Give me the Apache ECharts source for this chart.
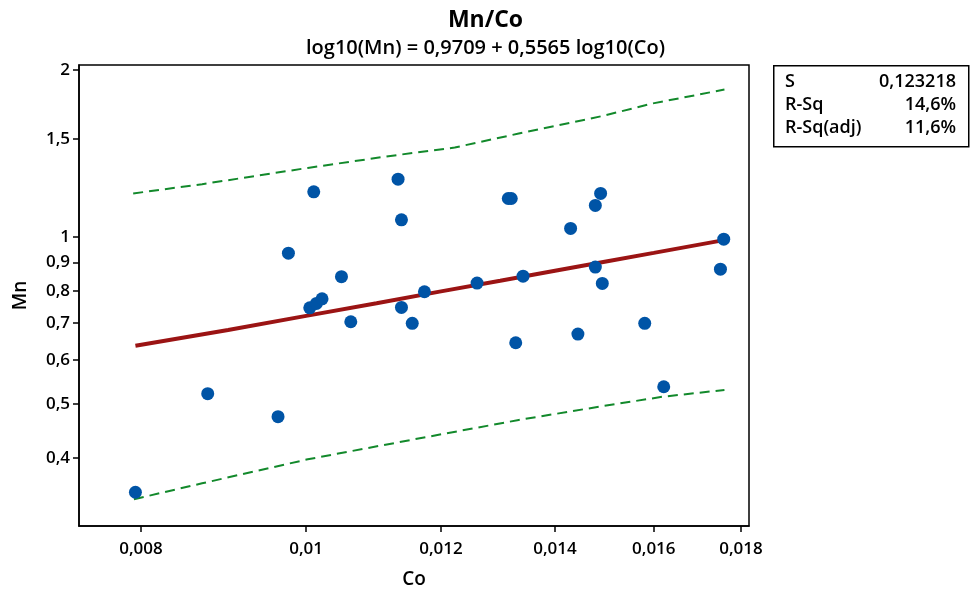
<!DOCTYPE html>
<html>
<head>
<meta charset="utf-8">
<script src="https://cdn.jsdelivr.net/npm/echarts@6/dist/echarts.min.js"></script>
<style>
html,body{margin:0;padding:0;background:#fff;}
#chart{width:971px;height:594px;}
</style>
</head>
<body>
<div id="chart"></div>
<script>
// ---- data ----
const coValues = [0.00794,0.008755,0.009628,0.009764,0.01005,0.010141,0.010218,0.010104,0.01049,0.010623,
  0.011324,0.011376,0.011376,0.011543,0.011735,0.0126,0.013143,0.013196,0.013276,0.013408,
  0.014298,0.01444,0.014784,0.014784,0.01489,0.014924,0.015805,0.016216,0.017508,0.017586];
const mnValues = [0.3471,0.5222,0.4747,0.9351,0.7455,0.7592,0.7739,1.2054,0.8483,0.7036,
  1.2705,1.0734,0.7466,0.699,0.7968,0.8258,1.1727,1.1727,0.645,0.8501,
  1.0358,0.6686,1.1394,0.8825,1.1975,0.8248,0.699,0.5375,0.8751,0.9909];

const fitCo = [0.00794,0.009,0.010,0.011,0.012,0.013,0.014,0.015,0.016,0.01759];
const fitMn = [0.637,0.680,0.721,0.760,0.798,0.834,0.869,0.903,0.936,0.987];

const piUpperCo = [0.007916,0.008689,0.010023,0.011208,0.012226,0.01333,0.01491,0.015969,0.017603];
const piUpperMn = [1.1975,1.2445,1.3313,1.399,1.4486,1.5351,1.6495,1.7384,1.8419];

const piLowerCo = [0.007924,0.008689,0.010023,0.011661,0.01333,0.01487,0.016201,0.017603];
const piLowerMn = [0.3372,0.3602,0.3979,0.4341,0.4683,0.495,0.5158,0.5303];

const xTickLabels = [0.008,0.01,0.012,0.014,0.016,0.018];
const yTickLabels = [0.4,0.5,0.6,0.7,0.8,0.9,1,1.5,2];
const xRange = [0.007357,0.018197];
const yRange = [0.3018,2.0393];

const titleText = 'Mn/Co';
const subTitleText = 'log10(Mn) = 0,9709 + 0,5565 log10(Co)';
const statsLabels = ['S','R-Sq','R-Sq(adj)'];
const statsValues = ['0,123218','14,6%','11,6%'];

// ---- build ----
const L = Math.log10;
const pairs = (xs, ys) => xs.map((x,i)=>[L(x),L(ys[i])]);
const fmt = v => {
  const n = parseFloat(Math.pow(10,v).toPrecision(6));
  return String(n).replace('.',',');
};
const FONT = '"Open Sans", "Noto Sans", sans-serif';

const chart = echarts.init(document.getElementById('chart'), null, {renderer:'canvas'});

const statsGraphics = [];
statsGraphics.push({
  type:'rect', left:773, top:65, shape:{width:195,height:81},
  style:{fill:'#fff', stroke:'#000', lineWidth:1.5}, z:10
});
statsLabels.forEach((t,i)=>{
  statsGraphics.push({type:'text', left:785, top:73+i*23,
    style:{text:t, font:'600 18px '+FONT, fill:'#000'}, z:11});
  statsGraphics.push({type:'text', right:971-956, top:73+i*23,
    style:{text:statsValues[i], font:'600 18px '+FONT, fill:'#000', align:'right'}, z:11});
});

const option = {
  backgroundColor:'#fff',
  animation:false,
  title:[
    {text:titleText, left:'center', top:4,
      textStyle:{fontFamily:FONT, fontSize:23, fontWeight:'bold', color:'#000'}},
    {text:subTitleText, left:'center', top:33,
      textStyle:{fontFamily:FONT, fontSize:20, fontWeight:600, color:'#000'}}
  ],
  grid:{left:79, right:222, top:65, bottom:68, show:true, borderColor:'#000', borderWidth:1.5,
    backgroundColor:'transparent', containLabel:false, outerBoundsMode:'none'},
  xAxis:{
    type:'value', min:L(xRange[0]), max:L(xRange[1]),
    name:'Co', nameLocation:'middle', nameGap:44,
    nameTextStyle:{fontFamily:FONT, fontSize:19, fontWeight:600, color:'#000'},
    axisLine:{show:true, onZero:false, lineStyle:{color:'#000', width:1.5}},
    axisTick:{show:true, length:6, inside:false, customValues:xTickLabels.map(L), lineStyle:{color:'#000', width:1.5}},
    axisLabel:{customValues:xTickLabels.map(L), formatter:fmt, fontFamily:FONT, fontSize:17, fontWeight:600, color:'#000', margin:15},
    splitLine:{show:false}
  },
  yAxis:{
    type:'value', min:L(yRange[0]), max:L(yRange[1]),
    name:'Mn', nameLocation:'middle', nameGap:49, nameRotate:90,
    nameTextStyle:{fontFamily:FONT, fontSize:19, fontWeight:600, color:'#000'},
    axisLine:{show:true, onZero:false, lineStyle:{color:'#000', width:1.5}},
    axisTick:{show:true, length:6, inside:false, customValues:yTickLabels.map(L), lineStyle:{color:'#000', width:1.5}},
    axisLabel:{customValues:yTickLabels.map(L), formatter:fmt, fontFamily:FONT, fontSize:17, fontWeight:600, color:'#000', margin:9},
    splitLine:{show:false}
  },
  series:[
    {type:'line', data:pairs(piUpperCo,piUpperMn), showSymbol:false, symbol:'none',
      lineStyle:{color:'#12892B', width:2, type:[10,6]}, z:2},
    {type:'line', data:pairs(piLowerCo,piLowerMn), showSymbol:false, symbol:'none',
      lineStyle:{color:'#12892B', width:2, type:[10,6]}, z:2},
    {type:'line', data:pairs(fitCo,fitMn), showSymbol:false, symbol:'none',
      lineStyle:{color:'#9B1414', width:4}, z:2},
    {type:'scatter', data:pairs(coValues,mnValues), symbol:'circle', symbolSize:13,
      itemStyle:{color:'#0054A6', opacity:1}, z:3}
  ],
  graphic:statsGraphics
};
chart.setOption(option);
</script>
</body>
</html>
